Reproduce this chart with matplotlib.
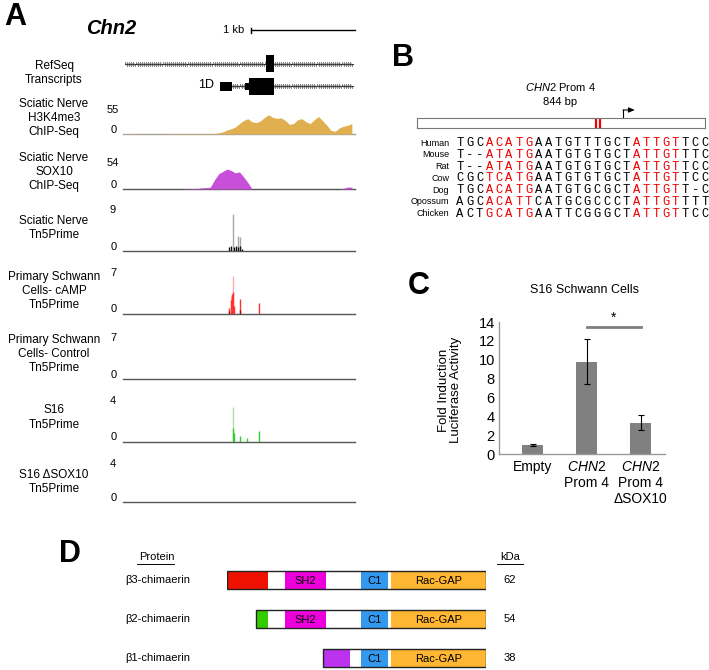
import matplotlib
matplotlib.use("Agg")
import matplotlib.pyplot as plt
from matplotlib.patches import Rectangle
from matplotlib.transforms import blended_transform_factory
import numpy as np

plt.rcParams['font.family'] = ['Liberation Sans', 'DejaVu Sans']
plt.rcParams['mathtext.fontset'] = 'custom'
plt.rcParams['mathtext.rm'] = 'Liberation Sans'
plt.rcParams['mathtext.it'] = 'Liberation Sans:italic'
plt.rcParams['mathtext.bf'] = 'Liberation Sans:bold'

W, H = 709, 670

# ---------------- data ----------------
# Panel A: genome window (kb from left edge), signal binned every 0.04 kb
window_kb = 2.23
bin_kb = 0.04
h3k4me3 = [0.5, 0.8, 1.0, 0.6, 0.4, 0.3, 0.3, 0.4, 0.3, 0.3,
           0.5, 0.6, 0.8, 1.2, 0.8, 0.5, 1.0, 1.3, 0.7, 0.5,
           0.6, 0.8, 1.2, 2.5, 5, 9, 12, 16, 24, 31,
           35, 28, 26, 30, 38, 44, 38, 36, 37, 31,
           22, 24, 33, 35, 28, 24, 33, 40, 30, 20,
           8, 6, 14, 18, 20, 24]
sox10 = [0, 0, 0, 0, 0, 0, 0, 0, 0, 0,
         0, 0, 0, 0, 0, 0.5, 0.8, 1.0, 1.2, 2.5,
         3, 4, 20, 33, 38, 43, 40, 35, 37, 26,
         14, 0, 0, 0, 0, 0, 0, 0, 0, 0,
         0, 0, 0, 0, 0, 0, 0, 0, 0, 0,
         0, 0, 0, 1.5, 4, 4]

# Tn5Prime cut counts (position kb, height)
sn_max_pos = [1.055, 1.106, 1.125]
sn_max_val = [8.5, 3.5, 3.3]
sn_mean_pos = [1.02, 1.035, 1.065, 1.09, 1.105, 1.12, 1.14]
sn_mean_val = [1.0, 1.1, 1.0, 1.2, 1.0, 1.2, 0.5]
camp_max_pos = [1.04, 1.055]
camp_max_val = [3.2, 6.8]
camp_pos = [1.02, 1.035, 1.045, 1.06, 1.07, 1.122, 1.31]
camp_val = [1.1, 2.5, 3.6, 4.0, 1.5, 2.7, 2.0]
camp_dark_pos = [1.02, 1.12]
camp_dark_val = [0.5, 0.7]
s16_max_pos = [1.055]
s16_max_val = [3.6]
s16_pos = [1.055, 1.07, 1.12, 1.195, 1.31]
s16_val = [1.4, 0.95, 0.6, 0.45, 1.15]

track_names = ['Sciatic Nerve\nH3K4me3\nChIP-Seq', 'Sciatic Nerve\nSOX10\nChIP-Seq',
               'Sciatic Nerve\nTn5Prime', 'Primary Schwann\nCells- cAMP\nTn5Prime',
               'Primary Schwann\nCells- Control\nTn5Prime', 'S16\nTn5Prime',
               'S16 \u0394SOX10\nTn5Prime']
track_max = [55, 54, 9, 7, 7, 4, 4]

# RefSeq transcripts (kb)
tx1_exons = [(1.375, 1.452)]
tx2_1d = (0.933, 1.048)
tx2_utr = (1.173, 1.21)
tx2_cds = (1.21, 1.452)

# Panel B
prom_len = 844
sox10_sites = [524, 536]
tss = 604
species = ['Human', 'Mouse', 'Rat', 'Cow', 'Dog', 'Opossum', 'Chicken']
seqs = ['TGCACATGAATGTTTGCTATTGTTCC',
        'T--ATATGAATGTGTGCTATTGTTTC',
        'T--ATATGAATGTGTGCTATTGTTCC',
        'CGCTCATGAATGTGTGCTATTGTTCC',
        'TGCACATGAATGTGCGCTATTGTT-C',
        'AGCACATTCATGCGCCCTATTGTTTT',
        'ACTGCATGAATTCGGGCTATTGTTCC']
motif_cols = [(3, 8), (18, 23)]

# Panel C
conditions = ['Empty', '$\\it{CHN2}$\nProm 4', '$\\it{CHN2}$\nProm 4\n\u0394SOX10']
fold = [1.0, 9.8, 3.3]
fold_err = [0.1, 2.4, 0.8]

# Panel D (aligned residue coordinates)
proteins = ['\u03b23-chimaerin', '\u03b22-chimaerin', '\u03b21-chimaerin']
kda = [62, 54, 38]
protein_span = [(0, 471), (53, 471), (175, 471)]
protein_domains = [
    [('N3', 0, 75), ('SH2', 105, 180), ('C1', 244, 293), ('Rac-GAP', 298, 471)],
    [('N2', 53, 75), ('SH2', 105, 180), ('C1', 244, 293), ('Rac-GAP', 298, 471)],
    [('N1', 175, 224), ('C1', 244, 293), ('Rac-GAP', 298, 471)],
]
domain_colors = {'N3': '#ee1100', 'N2': '#33cc00', 'N1': '#bb33ee',
                 'SH2': '#ee00dd', 'C1': '#3399ee', 'Rac-GAP': '#ffb733'}

# ---------------- figure ----------------
fig = plt.figure(figsize=(W / 100, H / 100), dpi=100)
ax0 = fig.add_axes([0, 0, 1, 1])
ax0.set_xlim(0, W)
ax0.set_ylim(H, 0)
ax0.axis('off')


def px_axes(x0, y0, x1, y1):
    """ Axes placed by pixel box (top-left origin). """
    ax = fig.add_axes([x0 / W, 1 - y1 / H, (x1 - x0) / W, (y1 - y0) / H])
    ax.set_facecolor('none')
    return ax


for lbl, xy in zip('ABCD', [(15, 17), (403, 58), (419, 286), (70, 554)]):
    ax0.text(xy[0], xy[1], lbl, fontsize=22, fontweight='bold', ha='center', va='center')

# ---- Panel A ----
ax0.text(111, 29, 'Chn2', fontsize=14.5, fontweight='bold', style='italic', ha='center', va='center')

axG = px_axes(123, 50, 355, 100)
axG.set_xlim(0, window_kb)
axG.set_ylim(1.6, -0.6)
axG.axis('off')
# scale bar
sb = blended_transform_factory(axG.transData, ax0.transData)
ax0.plot([1.23, 2.23], [30, 30], color='k', lw=1, transform=sb, clip_on=False)
ax0.plot([1.23, 1.23], [27.5, 32.5], color='k', lw=1, transform=sb, clip_on=False)
ax0.text(234, 30, '1 kb', fontsize=8, ha='center', va='center')

# transcript 1
axG.plot([0.02, 2.21], [0, 0], color='k', lw=0.6)
hatch = np.arange(0.03, 2.21, 0.02)
axG.plot(hatch, np.zeros_like(hatch), ls='none', marker=(2, 2, 30), ms=3.5, mew=0.35, color='#555555')
for a, b in tx1_exons:
    axG.add_patch(Rectangle((a, -0.38), b - a, 0.76, fc='k', ec='none', zorder=3))
# transcript 2
axG.plot([tx2_1d[1], 2.21], [1, 1], color='k', lw=0.6)
hatch2 = hatch[hatch > tx2_1d[1]]
axG.plot(hatch2, np.ones_like(hatch2), ls='none', marker=(2, 2, 30), ms=3.5, mew=0.35, color='#555555')
axG.add_patch(Rectangle((tx2_1d[0], 0.8), tx2_1d[1] - tx2_1d[0], 0.4, fc='k', ec='none', zorder=3))
axG.add_patch(Rectangle((tx2_utr[0], 0.86), tx2_utr[1] - tx2_utr[0], 0.28, fc='k', ec='none', zorder=3))
axG.add_patch(Rectangle((tx2_cds[0], 0.62), tx2_cds[1] - tx2_cds[0], 0.76, fc='k', ec='none', zorder=3))
ax0.text(206, 85, '1D', fontsize=9, ha='center', va='center')
ax0.text(54, 73, 'RefSeq\nTranscripts', fontsize=8.5, ha='center', va='center', linespacing=1.25)

track_box = [(110, 134), (164, 189), (212, 251), (275, 314), (340, 379), (403, 442), (466, 502)]
label_y = [118, 172, 228, 291, 354, 417.5, 482]
max_y = [110, 163, 210, 273, 338, 401, 464]
zero_y = [130, 185, 247, 309, 375, 437, 498]

bins = np.arange(len(h3k4me3)) * bin_kb
for i, (top, base) in enumerate(track_box):
    ax = px_axes(123, top, 355, base)
    ax.set_xlim(0, window_kb)
    ax.set_ylim(0, track_max[i])
    ax.axis('off')
    base_col = '#a0a0a0' if i == 0 else '#555555'
    ax.axhline(0, color=base_col, lw=1, clip_on=False, zorder=1)
    if i == 0:
        ax.fill_between(bins, h3k4me3, color='#e0b050', lw=0, zorder=2)
    elif i == 1:
        ax.fill_between(bins, sox10, color='#c84fd8', lw=0, zorder=2)
    elif i == 2:
        ax.vlines(sn_max_pos, 0, sn_max_val, color='#a8a8a8', lw=1)
        ax.vlines(sn_mean_pos, 0, sn_mean_val, color='#111111', lw=1)
    elif i == 3:
        ax.vlines(camp_max_pos, 0, camp_max_val, color='#f6b0b0', lw=1)
        ax.vlines(camp_pos, 0, camp_val, color='#ff3030', lw=1)
        ax.vlines(camp_dark_pos, 0, camp_dark_val, color='#b00000', lw=1)
    elif i == 5:
        ax.vlines(s16_max_pos, 0, s16_max_val, color='#a8e4a8', lw=1)
        ax.vlines(s16_pos, 0, s16_val, color='#33cc33', lw=1)
    ax0.text(54, label_y[i], track_names[i], fontsize=8.5, ha='center', va='center', linespacing=1.25)
    ax0.text(113, max_y[i], str(track_max[i]), fontsize=8, ha='center', va='center')
    ax0.text(114, zero_y[i], '0', fontsize=8, ha='center', va='center')

# ---- Panel B ----
ax0.text(560, 87, '$\\it{CHN2}$ Prom 4', fontsize=8, ha='center', va='center')
ax0.text(560, 102, '844 bp', fontsize=8, ha='center', va='center')
axP = px_axes(417, 118, 705, 128)
axP.set_xlim(0, prom_len)
axP.set_ylim(0, 1)
axP.set_xticks([])
axP.set_yticks([])
for s in axP.spines.values():
    s.set_color('#777777')
    s.set_linewidth(0.8)
axP.vlines(sox10_sites, 0, 1, color='#ee0000', lw=1.6)
axP.plot([tss, tss], [1, 1.8], color='k', lw=0.8, clip_on=False)
axP.annotate('', xy=(tss + 34, 1.8), xytext=(tss - 0.5, 1.8), annotation_clip=False,
             arrowprops=dict(arrowstyle='-|>,head_length=0.35,head_width=0.15', lw=0.8, color='k',
                             shrinkA=0, shrinkB=0))

for r, (sp, seq) in enumerate(zip(species, seqs)):
    y = 143 + r * 11.8
    ax0.text(449, y, sp, fontsize=6.5, ha='right', va='center')
    for j, ch in enumerate(seq):
        red = any(a <= j < b for a, b in motif_cols)
        ax0.text(460 + j * 9.8, y, ch, fontsize=8.7, family='Liberation Mono',
                 color='#ee0000' if red else 'k', ha='center', va='center')

# ---- Panel C ----
ax0.text(585, 290, 'S16 Schwann Cells', fontsize=9, ha='center', va='center')
axC = px_axes(499, 322, 665, 454)
xpos = np.arange(len(fold))
axC.bar(xpos, fold, width=0.4, color='#808080', yerr=fold_err, capsize=2.5,
        error_kw=dict(elinewidth=0.8, capthick=0.8, ecolor='k'))
axC.set_ylim(0, 14)
axC.set_xlim(-0.62, 2.45)
axC.set_yticks(range(0, 15, 2))
axC.set_xticks(xpos)
axC.set_xticklabels(conditions, fontsize=10)
axC.tick_params(axis='y', length=0, pad=3, labelsize=10.5)
axC.tick_params(axis='x', length=0, pad=4)
axC.spines['top'].set_visible(False)
axC.spines['right'].set_visible(False)
for s in ['left', 'bottom']:
    axC.spines[s].set_color('#999999')
    axC.spines[s].set_linewidth(1)
axC.plot([1, 2], [13.5, 13.5], color='#7f7f7f', lw=2, clip_on=False)
axC.text(1.5, 14.5, '*', fontsize=10, ha='center', va='center')
ax0.text(450, 390, 'Fold Induction\nLuciferase Activity', fontsize=9.5, rotation=90,
         ha='center', va='center', linespacing=1.05)

# ---- Panel D ----
ax0.text(157, 557, 'Protein', fontsize=8, ha='center', va='center')
ax0.plot([137, 174], [564, 564], color='k', lw=0.7)
ax0.text(510, 557, 'kDa', fontsize=8, ha='center', va='center')
ax0.plot([497, 523], [564, 564], color='k', lw=0.7)

axD = px_axes(227, 560.5, 486, 669.7)
axD.set_xlim(0, 471)
axD.set_ylim(2.3, -0.5)
axD.axis('off')
tD = blended_transform_factory(ax0.transData, axD.transData)
bh = 0.46
for r, (name, (a, b), doms) in enumerate(zip(proteins, protein_span, protein_domains)):
    axD.add_patch(Rectangle((a, r - bh / 2), b - a, bh, fc='white', ec='none', zorder=1))
    for dname, d0, d1 in doms:
        axD.add_patch(Rectangle((d0, r - bh / 2), d1 - d0, bh, fc=domain_colors[dname], ec='none', zorder=2))
        if dname in ('SH2', 'C1', 'Rac-GAP'):
            axD.text((d0 + d1) / 2, r + 0.02, dname, fontsize=8, ha='center', va='center', zorder=4)
    axD.add_patch(Rectangle((a, r - bh / 2), b - a, bh, fc='none', ec='#222222', lw=1, zorder=3))
    ax0.text(125, r, name, fontsize=8, ha='left', va='center', transform=tD)
    ax0.text(510, r, str(kda[r]), fontsize=8, ha='center', va='center', transform=tD)

fig.savefig('out.png', dpi=100)
